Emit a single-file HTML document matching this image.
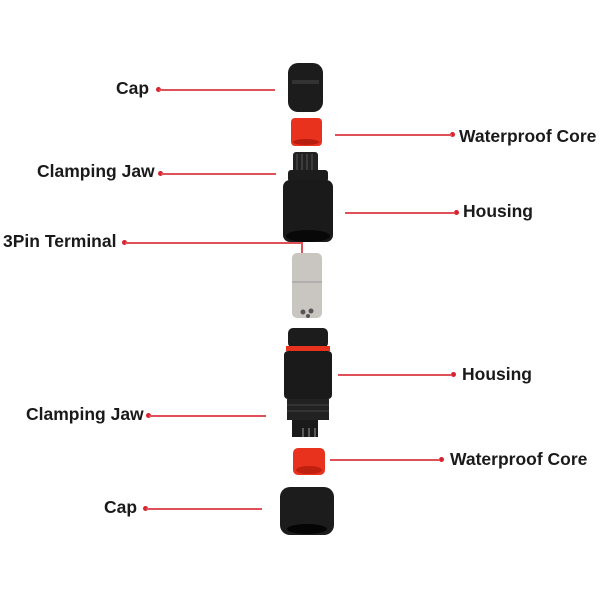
<!DOCTYPE html>
<html><head><style>
body{margin:0;width:600px;height:600px;background:#fff;position:relative;overflow:hidden;font-family:"Liberation Sans",sans-serif}
.t{position:absolute;font-size:17.5px;font-weight:bold;color:#1a1a1a;line-height:17px;white-space:nowrap}
.l{position:absolute;height:1.5px;background:#e05058}
.d{position:absolute;width:5px;height:5px;border-radius:50%;background:#d8232f}
.s{position:absolute}
</style></head><body>
<div class="t" style="left:116px;top:80px">Cap</div><div class="d" style="left:156px;top:87px"></div><div class="l" style="left:159px;top:89px;width:116px"></div>
<div class="t" style="left:459px;top:128px">Waterproof Core</div><div class="d" style="left:450px;top:132px"></div><div class="l" style="left:335px;top:134px;width:117px"></div>
<div class="t" style="left:37px;top:163px">Clamping Jaw</div><div class="d" style="left:158px;top:171px"></div><div class="l" style="left:161px;top:173px;width:115px"></div>
<div class="t" style="left:463px;top:203px">Housing</div><div class="d" style="left:454px;top:210px"></div><div class="l" style="left:345px;top:212px;width:110px"></div>
<div class="t" style="left:3px;top:233px">3Pin Terminal</div><div class="d" style="left:122px;top:240px"></div><div class="l" style="left:125px;top:242px;width:177px"></div><div class="l" style="left:301px;top:242px;width:1.5px;height:12px"></div>
<div class="t" style="left:462px;top:366px">Housing</div><div class="d" style="left:451px;top:372px"></div><div class="l" style="left:338px;top:374px;width:114px"></div>
<div class="t" style="left:26px;top:406px">Clamping Jaw</div><div class="d" style="left:146px;top:413px"></div><div class="l" style="left:149px;top:415px;width:117px"></div>
<div class="t" style="left:450px;top:451px">Waterproof Core</div><div class="d" style="left:439px;top:457px"></div><div class="l" style="left:330px;top:459px;width:110px"></div>
<div class="t" style="left:104px;top:499px">Cap</div><div class="d" style="left:143px;top:506px"></div><div class="l" style="left:146px;top:508px;width:116px"></div>

<svg class="s" style="left:0;top:0" width="600" height="600">
<rect x="288" y="63" width="35" height="49" rx="10" fill="#1c1c1c"/>
<rect x="292" y="80" width="27" height="4" fill="#333"/>
<rect x="291" y="118" width="31" height="28" rx="4" fill="#e8321e"/>
<ellipse cx="306" cy="142" rx="13" ry="3" fill="#b81e10"/>
<rect x="293" y="152" width="25" height="22" rx="3" fill="#222"/>
<g stroke="#555" stroke-width="1"><line x1="297" y1="154" x2="297" y2="172"/><line x1="302" y1="154" x2="302" y2="172"/><line x1="307" y1="154" x2="307" y2="172"/><line x1="312" y1="154" x2="312" y2="172"/></g>
<rect x="288" y="170" width="40" height="12" rx="3" fill="#1c1c1c"/>
<rect x="283" y="180" width="50" height="62" rx="7" fill="#1a1a1a"/>
<ellipse cx="308" cy="236" rx="22" ry="6" fill="#080808"/>
<rect x="292" y="253" width="30" height="65" rx="5" fill="#c9c6c2"/>
<line x1="292" y1="282" x2="322" y2="282" stroke="#999"/>
<circle cx="303" cy="312" r="2.5" fill="#555"/><circle cx="311" cy="311" r="2.5" fill="#555"/><circle cx="308" cy="316" r="2" fill="#555"/>
<rect x="288" y="328" width="40" height="20" rx="5" fill="#1c1c1c"/>
<rect x="286" y="346" width="44" height="5" fill="#e8321e"/>
<rect x="284" y="351" width="48" height="48" rx="4" fill="#1a1a1a"/>
<rect x="287" y="399" width="42" height="21" fill="#222"/>
<g stroke="#444"><line x1="287" y1="405" x2="329" y2="405"/><line x1="287" y1="411" x2="329" y2="411"/></g>
<rect x="292" y="420" width="26" height="17" fill="#1a1a1a"/>
<g stroke="#999"><line x1="303" y1="428" x2="303" y2="437"/><line x1="309" y1="428" x2="309" y2="437"/><line x1="315" y1="428" x2="315" y2="437"/></g>
<rect x="293" y="448" width="32" height="27" rx="5" fill="#e8321e"/>
<ellipse cx="309" cy="470" rx="13" ry="4" fill="#c0200f"/>
<rect x="280" y="487" width="54" height="48" rx="10" fill="#1c1c1c"/>
<ellipse cx="307" cy="529" rx="20" ry="5" fill="#050505"/>
</svg>
</body></html>
